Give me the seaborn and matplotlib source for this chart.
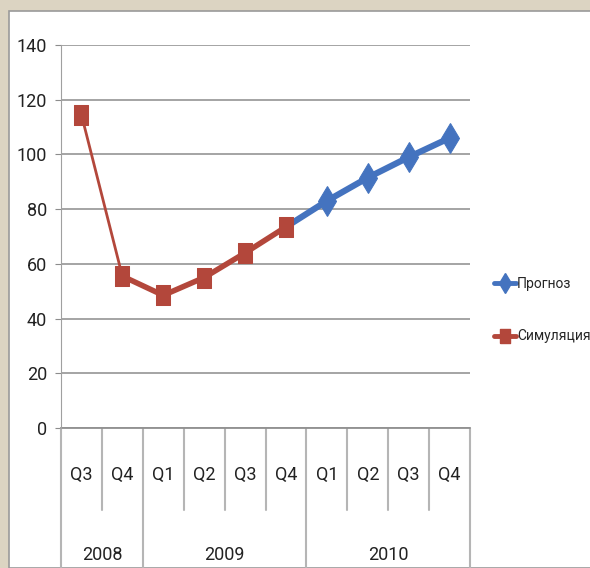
import seaborn as sns
import matplotlib.pyplot as plt
import matplotlib.transforms as mtransforms
from matplotlib.lines import Line2D
from matplotlib.patches import Rectangle
import pandas as pd

quarters = ["Q3", "Q4", "Q1", "Q2", "Q3", "Q4", "Q1", "Q2", "Q3", "Q4"]
years = ["2008", "2009", "2010"]
year_span = [2, 4, 4]
simulation = [114.5, 55.5, 48.5, 55, 64, 73.5]
forecast = [73.5, 83, 91.5, 99, 106]
labels = ["Прогноз", "Симуляция"]

blue = "#4473BF"
red = "#B3473B"
grid = "#8C8C8C"

sns.set_style("white")
plt.rcParams['font.family'] = ['Roboto', 'DejaVu Sans']

fig = plt.figure(figsize=(5.9, 5.68), dpi=100)
fig.patch.set_facecolor("#DCD4C2")
fig.patches.append(Rectangle((9 / 590, 0), 1, 1 - 11 / 568, transform=fig.transFigure,
                             facecolor="white", edgecolor="#9A9A9A", lw=1.2, zorder=-5))
ax = fig.add_axes([61 / 590, 1 - 428 / 568, 409 / 590, 383 / 568])
ax.set_facecolor("none")

sim_df = pd.DataFrame({"x": range(len(simulation)), "y": simulation})
fc_df = pd.DataFrame({"x": range(len(simulation) - 1, len(simulation) - 1 + len(forecast)), "y": forecast})

# forecast line
sns.lineplot(data=fc_df, x="x", y="y", ax=ax, color=blue, lw=4.5, zorder=3)
sns.lineplot(data=fc_df.iloc[1:], x="x", y="y", ax=ax, color=blue, lw=0, marker="d",
             markersize=15, markeredgecolor=blue, zorder=4)
# simulation line (first segment thinner, like the original)
sns.lineplot(data=sim_df.iloc[:2], x="x", y="y", ax=ax, color=red, lw=2, zorder=5)
sns.lineplot(data=sim_df.iloc[1:], x="x", y="y", ax=ax, color=red, lw=4, zorder=5)
rect = [(-0.36, -0.5), (0.36, -0.5), (0.36, 0.5), (-0.36, 0.5), (-0.36, -0.5)]
sns.lineplot(data=sim_df, x="x", y="y", ax=ax, color=red, lw=0, marker=rect,
             markersize=15, markeredgecolor=red, zorder=6)

ax.set_xlim(-0.5, len(quarters) - 0.5)
ax.set_ylim(0, 140)
ax.set_yticks(range(0, 141, 20))
ax.set_yticklabels([str(v) for v in range(0, 141, 20)], fontsize=13, color="#222222")
ax.yaxis.grid(True, color=grid, lw=1.1)
ax.set_axisbelow(True)
ax.tick_params(axis="y", length=4, color=grid, pad=6, left=True)
ax.set_xticks([])
ax.set_xlabel("")
ax.set_ylabel("")
for side in ["top", "right", "bottom"]:
    ax.spines[side].set_visible(False)
ax.spines["left"].set_color("#A0A0A0")

# category axis below the plot
tr = mtransforms.blended_transform_factory(ax.transData, ax.transAxes)
q_bottom = (428 - 510) / 383
y_bottom = (428 - 575) / 383
year_edges = [-0.5]
for s in year_span:
    year_edges.append(year_edges[-1] + s)
for i in range(len(quarters) + 1):
    xe = i - 0.5
    low = y_bottom if xe in year_edges else q_bottom
    ax.plot([xe, xe], [0, low], transform=tr, color="#B5B5B5", lw=1.5, clip_on=False)
ax.plot([-0.5, len(quarters) - 0.5], [0, 0], transform=tr, color="#909090", lw=1.3, clip_on=False)
for i, q in enumerate(quarters):
    ax.text(i, (428 - 475) / 383, q, transform=tr, ha="center", va="center",
            fontsize=13, color="#222222")
for j, yr in enumerate(years):
    ax.text((year_edges[j] + year_edges[j + 1]) / 2, (428 - 555) / 383, yr, transform=tr,
            ha="center", va="center", fontsize=13, color="#222222")

handles = [
    Line2D([], [], color=blue, lw=3.5, marker="d", markersize=10),
    Line2D([], [], color=red, lw=3.5, marker=rect, markersize=10),
]
fig.legend(handles, labels, loc="center left", bbox_to_anchor=(488 / 590, 1 - 310 / 568),
           frameon=False, fontsize=10, handlelength=1.6, handletextpad=0.1,
           labelspacing=2.8, borderaxespad=0)

fig.savefig("out.png", dpi=100)
